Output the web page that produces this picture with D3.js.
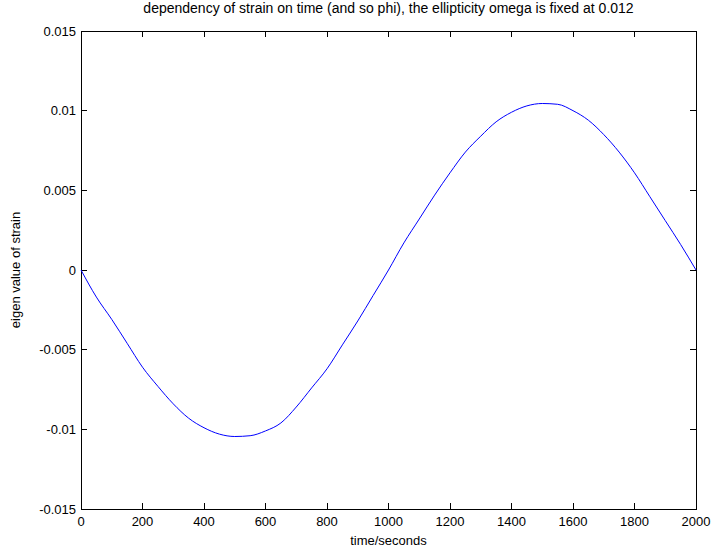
<!DOCTYPE html>
<html><head><meta charset="utf-8">
<script src="https://cdn.jsdelivr.net/npm/d3@7"></script>
<style>body{margin:0;background:#fff}svg{display:block}text{font-family:"Liberation Sans",Arial,Helvetica,sans-serif}</style>
</head><body>
<svg id="c" width="714" height="550"></svg>
<script>
const times = [0,50,100,150,200,250,300,350,400,450,500,550,600,650,700,750,800,850,900,950,1000,1050,1100,1150,1200,1250,1300,1350,1400,1450,1500,1550,1600,1650,1700,1750,1800,1850,1900,1950,2000];
const strain = [0,-0.0017,-0.0031,-0.0046,-0.0061,-0.0073,-0.0084,-0.0093,-0.0099,-0.0103,-0.01045,-0.0104,-0.0101,-0.0096,-0.0086,-0.0074,-0.0062,-0.0047,-0.0032,-0.0016,0,0.0017,0.0032,0.0047,0.0061,0.0074,0.0084,0.0093,0.0099,0.0103,0.01045,0.0104,0.0100,0.0094,0.0085,0.0074,0.0061,0.0046,0.0031,0.0016,0];
const xTicks = [0,200,400,600,800,1000,1200,1400,1600,1800,2000];
const yTicks = [-0.015,-0.01,-0.005,0,0.005,0.01,0.015];
const yTickLabels = ["-0.015","-0.01","-0.005","0","0.005","0.01","0.015"];
const title = "dependency of strain on time (and so phi), the ellipticity omega is fixed at 0.012";
const xLabel = "time/seconds";
const yLabel = "eigen value of strain";

const L=81,R=696,T=31,B=509, fs=13;
const svg=d3.select("#c");
const x=d3.scaleLinear().domain([0,2000]).range([L,R]);
const y=d3.scaleLinear().domain([-0.015,0.015]).range([B,T]);

svg.append("rect").attr("x",L).attr("y",T).attr("width",R-L).attr("height",B-T).attr("fill","none").attr("stroke","#000").attr("stroke-width",1).attr("shape-rendering","crispEdges");

const tl=6;
const g=svg.append("g").attr("stroke","#000").attr("shape-rendering","crispEdges");
xTicks.forEach(t=>{
  g.append("line").attr("x1",x(t)).attr("x2",x(t)).attr("y1",B).attr("y2",B-tl);
  g.append("line").attr("x1",x(t)).attr("x2",x(t)).attr("y1",T).attr("y2",T+tl);
});
yTicks.forEach(t=>{
  g.append("line").attr("x1",L).attr("x2",L+tl).attr("y1",y(t)).attr("y2",y(t));
  g.append("line").attr("x1",R).attr("x2",R-tl).attr("y1",y(t)).attr("y2",y(t));
});
xTicks.forEach(t=>{
  svg.append("text").attr("x",x(t)).attr("y",B+17).attr("text-anchor","middle").attr("font-size",fs).text(t);
});
yTicks.forEach((t,i)=>{
  svg.append("text").attr("x",L-5).attr("y",y(t)+4.5).attr("text-anchor","end").attr("font-size",fs).text(yTickLabels[i]);
});
svg.append("text").attr("x",(L+R)/2).attr("y",B+36).attr("text-anchor","middle").attr("font-size",fs).text(xLabel);
svg.append("text").attr("transform",`translate(20,${(T+B)/2}) rotate(-90)`).attr("text-anchor","middle").attr("font-size",fs).text(yLabel);
svg.append("text").attr("x",(L+R)/2).attr("y",13).attr("text-anchor","middle").attr("font-size",14).text(title);

const line=d3.line().x((d,i)=>x(times[i])).y(d=>y(d)).curve(d3.curveMonotoneX);
svg.append("path").datum(strain).attr("d",line).attr("fill","none").attr("stroke","#0000ff").attr("stroke-width",1);
</script>
</body></html>
